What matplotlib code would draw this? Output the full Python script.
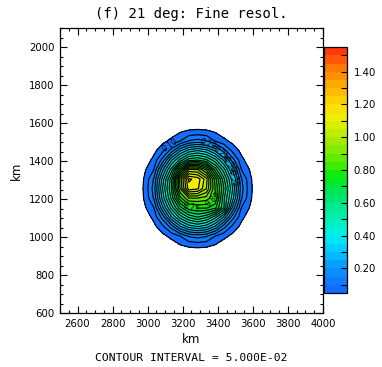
import numpy as np
import matplotlib
matplotlib.use("Agg")
from matplotlib import pyplot as plt
from matplotlib.colors import LinearSegmentedColormap
from matplotlib.ticker import MultipleLocator

# grid of the field (km)
x_km = [2935, 2985, 3035, 3085, 3135, 3185, 3235, 3285,
        3335, 3385, 3435, 3485, 3535, 3585, 3635]
y_km = [1605, 1555, 1505, 1455, 1405, 1355, 1305, 1255,
        1205, 1155, 1105, 1055, 1005, 955, 905]

# field values, rows from north (top) to south (bottom)
field = [
    [0, 0, 0, 0, 0, 0, 0, 0, 0, 0, 0, 0, 0, 0, 0],
    [0, 0, 0, 0, 0.02, 0.045, 0.06, 0.065, 0.06, 0.045, 0.02, 0, 0, 0, 0],
    [0, 0, 0, 0.035, 0.065, 0.10, 0.155, 0.17, 0.155, 0.10, 0.065, 0.035, 0, 0, 0],
    [0, 0, 0.035, 0.085, 0.17, 0.29, 0.37, 0.40, 0.37, 0.29, 0.17, 0.085, 0.035, 0, 0],
    [0, 0.02, 0.065, 0.17, 0.34, 0.47, 0.58, 0.60, 0.56, 0.47, 0.34, 0.17, 0.065, 0.02, 0],
    [0, 0.045, 0.10, 0.29, 0.47, 0.72, 0.96, 0.95, 0.84, 0.63, 0.47, 0.29, 0.10, 0.045, 0],
    [0, 0.06, 0.155, 0.37, 0.58, 0.92, 1.16, 1.13, 1.02, 0.78, 0.56, 0.37, 0.155, 0.06, 0],
    [0, 0.065, 0.17, 0.40, 0.60, 0.90, 1.13, 1.11, 1.00, 0.80, 0.60, 0.40, 0.17, 0.065, 0],
    [0, 0.06, 0.155, 0.37, 0.56, 0.78, 0.90, 0.90, 0.88, 0.80, 0.56, 0.37, 0.155, 0.06, 0],
    [0, 0.045, 0.10, 0.29, 0.47, 0.63, 0.74, 0.76, 0.76, 0.72, 0.55, 0.29, 0.10, 0.045, 0],
    [0, 0.02, 0.065, 0.17, 0.34, 0.47, 0.56, 0.60, 0.56, 0.47, 0.34, 0.17, 0.065, 0.02, 0],
    [0, 0, 0.035, 0.085, 0.17, 0.29, 0.37, 0.40, 0.37, 0.29, 0.17, 0.085, 0.035, 0, 0],
    [0, 0, 0, 0.035, 0.065, 0.10, 0.155, 0.17, 0.155, 0.10, 0.065, 0.035, 0, 0, 0],
    [0, 0, 0, 0, 0.02, 0.045, 0.06, 0.065, 0.06, 0.045, 0.02, 0, 0, 0, 0],
    [0, 0, 0, 0, 0, 0, 0, 0, 0, 0, 0, 0, 0, 0, 0],
]

levels = np.round(np.arange(0.05, 1.5501, 0.05), 2)
cbar_ticks = [0.2, 0.4, 0.6, 0.8, 1.0, 1.2, 1.4]

# labelled contours: (level, x, y)
labels = [(0.10, 3130, 1480), (0.20, 3347, 1487), (0.25, 3416, 1442),
          (0.30, 3462, 1379), (0.35, 3482, 1308),
          (0.75, 3250, 1165), (0.80, 3380, 1185)]

colors = [(0.05, '#1464ff'), (0.20, '#0a96ff'), (0.30, '#00c8ff'),
          (0.40, '#00f0f0'), (0.50, '#00f0b4'), (0.62, '#00e678'),
          (0.75, '#00eb14'), (0.85, '#50eb00'), (1.00, '#b4eb00'),
          (1.12, '#f0f000'), (1.22, '#ffd200'), (1.35, '#ffa000'),
          (1.45, '#ff6e00'), (1.55, '#ff2814')]
lo, hi = colors[0][0], colors[-1][0]
cmap = LinearSegmentedColormap.from_list(
    'ncl', [((v - lo) / (hi - lo), c) for v, c in colors])

X, Y = np.meshgrid(x_km, y_km)
Z = np.array(field)

fig = plt.figure(figsize=(3.82, 3.67), dpi=100)
ax = fig.add_axes([0.157, 0.147, 0.6885, 0.7766])
cax = fig.add_axes([0.848, 0.2016, 0.060, 0.670])

cf = ax.contourf(X, Y, Z, levels=levels, cmap=cmap, vmin=lo, vmax=hi)

# plain contour lines, then the labelled ones one level at a time
label_levels = [lev for lev, _, _ in labels]
plain = [lev for lev in levels if not np.isclose(lev, label_levels).any()]
ax.contour(X, Y, Z, levels=plain, colors='k', linewidths=0.85)
for lev, lx, ly in labels:
    cs = ax.contour(X, Y, Z, levels=[lev], colors='k', linewidths=0.85)
    ax.clabel(cs, manual=[(lx, ly)], fmt='%.2f', fontsize=5.5,
              colors='k', inline=True, inline_spacing=1)

ax.set_xlim(2500, 4000)
ax.set_ylim(600, 2100)
ax.set_xticks([2600, 2800, 3000, 3200, 3400, 3600, 3800, 4000])
ax.set_yticks([600, 800, 1000, 1200, 1400, 1600, 1800, 2000])
ax.xaxis.set_minor_locator(MultipleLocator(50))
ax.yaxis.set_minor_locator(MultipleLocator(50))
ax.tick_params(which='both', direction='in', top=True, right=True,
               labelsize=7.3, width=0.8, pad=4)
ax.tick_params(which='major', length=5)
ax.tick_params(which='minor', length=2.5)
for s in ax.spines.values():
    s.set_linewidth(0.9)

ax.set_xlabel('km', fontsize=8.5, labelpad=3)
ax.set_ylabel('km', fontsize=8.5, labelpad=4)
ax.set_title('(f) 21 deg: Fine resol.', family='DejaVu Sans Mono',
             fontsize=10, pad=7)

cb = fig.colorbar(cf, cax=cax)
cb.set_ticks(cbar_ticks)
cb.ax.set_yticklabels(['%.2f' % t for t in cbar_ticks])
cb.ax.yaxis.set_minor_locator(MultipleLocator(0.1))
cb.ax.tick_params(which='both', direction='in', length=4, width=0.8,
                  labelsize=7.3, pad=5)
cb.outline.set_linewidth(0.9)

fig.text(0.5, 0.017, 'CONTOUR INTERVAL = 5.000E-02', ha='center',
         family='DejaVu Sans Mono', fontsize=8.2)

fig.savefig('out.png', dpi=100)
